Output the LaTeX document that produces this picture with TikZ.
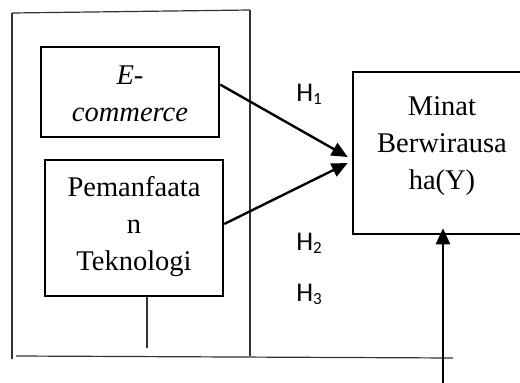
\documentclass[tikz,border=0pt]{standalone}
\usepackage{fontspec}
\setmainfont{Liberation Serif}
\newfontfamily\hfont{Carlito}
\usetikzlibrary{arrows.meta,calc}
\begin{document}
\begin{tikzpicture}[x=1pt,y=-1pt,
  frame/.style={draw=black!80, line width=1.2pt},
  varbox/.style={draw, line width=2.5pt, inner sep=0pt},
  boxtext/.style={align=center, font=\fontsize{28.5}{37}\selectfont, inner sep=0pt},
  hyp/.style={font=\hfont\fontsize{27}{27}\selectfont, inner sep=0pt, anchor=base},
  link/.style={line width=2.4pt, -{Triangle[length=16pt,width=14pt]}}]
\useasboundingbox (0,0) rectangle (520,383);
\clip (0,0) rectangle (520,383);

% outer frame around the independent variables
\draw[frame] (12,13) -- (250,10);
\draw[frame] (12,13) -- (12,359);
\draw[frame] (250,10) -- (250,356);
\draw[frame] (16,356) -- (453,358);

% variable boxes
\node[varbox, minimum width=178, minimum height=90] (ec) at (130,92) {};
\node[varbox, minimum width=178, minimum height=136] (pem) at (134,228) {};
\node[varbox, minimum width=178, minimum height=162] (my) at (442,153) {};

\node[boxtext, font=\fontsize{28.5}{37}\selectfont\itshape] (ectext) at (130,93.5) {E-\\commerce};
\node[boxtext] (pemtext) at (134,227) {Pemanfaata\\n\\Teknologi};
\node[boxtext] (mytext) at (442,146) {Minat\\Berwirausa\\ha(Y)};

% hypothesis labels
\node[hyp] (h1) at (309,101) {H\raisebox{-3pt}{\fontsize{17}{17}\selectfont 1}};
\node[hyp] (h2) at (309,250) {H\raisebox{-3pt}{\fontsize{17}{17}\selectfont 2}};
\node[hyp] (h3) at (309,301) {H\raisebox{-3pt}{\fontsize{17}{17}\selectfont 3}};

% connectors
\draw[link] ($(ec.north east)!0.42!(ec.south east)$) -- ($(my.west)+(-4,4)$);
\draw[link] ($(pem.east)+(0,-4)$) -- ($(my.west)+(-4,10)$);
\coordinate (src) at (443,395);
\draw[link] (src) -- ($(my.south)+(1,-7)$);
\draw[frame] ($(pem.south)+(13,0)$) -- ++(0,51);
\end{tikzpicture}
\end{document}
